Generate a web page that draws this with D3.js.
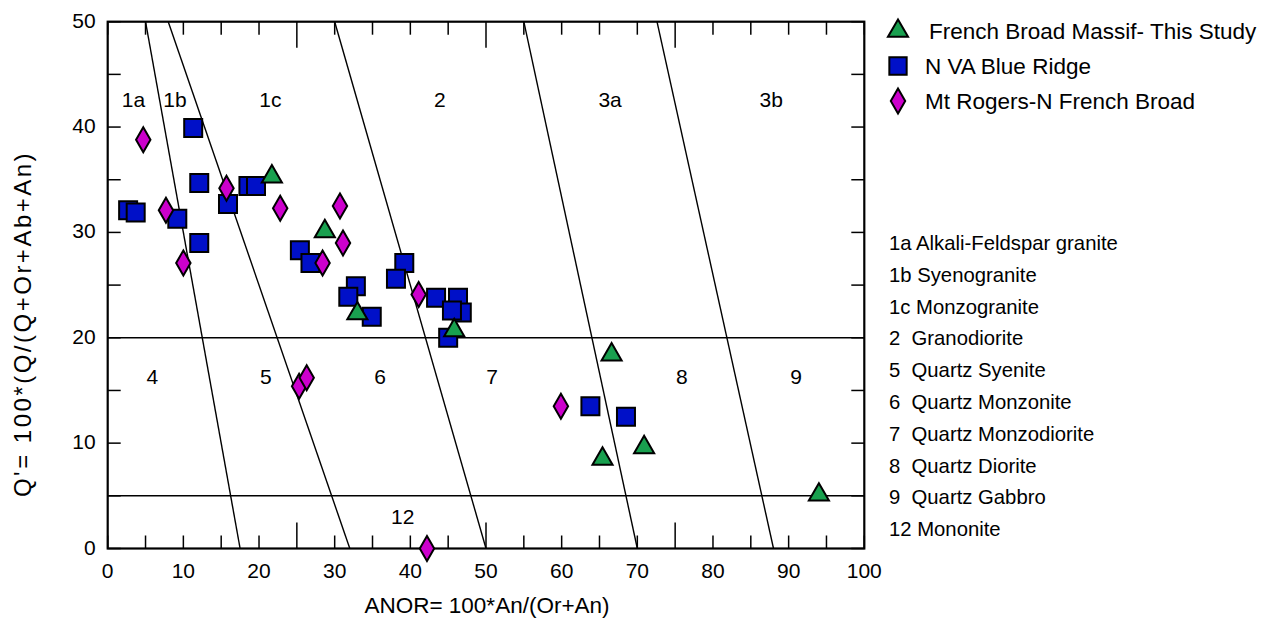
<!DOCTYPE html>
<html>
<head>
<meta charset="utf-8">
<script src="https://cdn.jsdelivr.net/npm/d3@7"></script>
<style>
  body { margin: 0; background: #fff; }
  text { font-family: "Liberation Sans", Arial, sans-serif; fill: #000; }
</style>
</head>
<body>
<div id="chart"></div>
<script>
// French Broad Massif - This Study (green triangles)
var frenchBroad = [
  [21.7, 35.3], [28.7, 30.1], [33.0, 22.3], [45.8, 20.7],
  [66.6, 18.4], [65.4, 8.5], [70.9, 9.6], [94.0, 5.1]
];

// N VA Blue Ridge (blue squares)
var nvaBlueRidge = [
  [11.3, 39.9], [12.1, 34.7], [2.7, 32.1], [3.7, 31.9], [9.2, 31.3],
  [12.1, 29.0], [15.9, 32.7], [18.6, 34.4], [19.6, 34.4], [25.4, 28.3],
  [26.8, 27.1], [32.8, 24.9], [31.8, 23.9], [34.9, 22.0], [39.2, 27.1],
  [38.1, 25.6], [43.4, 23.8], [46.3, 23.8], [46.8, 22.4], [45.5, 22.6],
  [45.0, 20.0], [63.8, 13.5], [68.5, 12.5]
];

// Mt Rogers-N French Broad (magenta diamonds)
var mtRogers = [
  [4.7, 38.8], [7.7, 32.1], [10.0, 27.1], [15.7, 34.2], [22.8, 32.3],
  [28.4, 27.1], [30.7, 32.5], [31.1, 29.0], [41.1, 24.1], [25.3, 15.4],
  [26.3, 16.2], [42.2, 0.0], [59.9, 13.5]
];

// field boundaries: ANOR at Q'=50 and at Q'=0
var boundTop = [5, 8, 30, 55, 72.6];
var boundBottom = [17.5, 32, 50, 70, 88];
var hLines = [20, 5];

var fieldNames = ["1a", "1b", "1c", "2", "3a", "3b", "4", "5", "6", "7", "8", "9", "12"];
var fieldX = [3.4, 8.9, 21.5, 43.9, 66.4, 87.7, 5.9, 20.9, 36.0, 50.8, 75.9, 91.0, 39.0];
var fieldY = [42.6, 42.6, 42.6, 42.6, 42.6, 42.6, 16.3, 16.3, 16.3, 16.3, 16.3, 16.3, 3.0];

var legendNames = ["French Broad Massif- This Study", "N VA Blue Ridge", "Mt Rogers-N French Broad"];

var keyLines = [
  "1a Alkali-Feldspar granite", "1b Syenogranite", "1c Monzogranite",
  "2  Granodiorite", "5  Quartz Syenite", "6  Quartz Monzonite",
  "7  Quartz Monzodiorite", "8  Quartz Diorite", "9  Quartz Gabbro",
  "12 Mononite"
];

var xTicks = d3.range(0, 101, 5);
var xLabels = d3.range(0, 101, 10);
var yTicks = d3.range(0, 51, 5);
var yLabels = d3.range(0, 51, 10);

var width = 1262, height = 620;
var plotLeft = 107.7, plotRight = 864.3, plotTop = 21.7, plotBottom = 548.5;

var svg = d3.select("#chart").append("svg")
  .attr("width", width)
  .attr("height", height);

var x = d3.scaleLinear().domain([0, 100]).range([plotLeft, plotRight]);
var y = d3.scaleLinear().domain([0, 50]).range([plotBottom, plotTop]);

function tickLen(d) { return d % 25 === 0 && d !== 0 && d !== 100 ? 26 : 13; }

// boundary lines
svg.append("g").selectAll("line")
  .data(boundTop)
  .enter().append("line")
  .attr("x1", function (d) { return x(d); })
  .attr("y1", y(50))
  .attr("x2", function (d, i) { return x(boundBottom[i]); })
  .attr("y2", y(0))
  .attr("stroke", "#000")
  .attr("stroke-width", 1.4);

svg.append("g").selectAll("line")
  .data(hLines)
  .enter().append("line")
  .attr("x1", x(0))
  .attr("x2", x(100))
  .attr("y1", function (d) { return y(d); })
  .attr("y2", function (d) { return y(d); })
  .attr("stroke", "#000")
  .attr("stroke-width", 1.4);

// ticks (inward) on all four sides
var tickG = svg.append("g").attr("stroke", "#000").attr("stroke-width", 1.5);
xTicks.forEach(function (d) {
  tickG.append("line").attr("x1", x(d)).attr("x2", x(d))
    .attr("y1", y(0)).attr("y2", y(0) - tickLen(d));
  tickG.append("line").attr("x1", x(d)).attr("x2", x(d))
    .attr("y1", y(50)).attr("y2", y(50) + tickLen(d));
});
yTicks.forEach(function (d) {
  tickG.append("line").attr("x1", x(0)).attr("x2", x(0) + 13)
    .attr("y1", y(d)).attr("y2", y(d));
  tickG.append("line").attr("x1", x(100)).attr("x2", x(100) - 13)
    .attr("y1", y(d)).attr("y2", y(d));
});

// frame
svg.append("rect")
  .attr("x", plotLeft).attr("y", plotTop)
  .attr("width", plotRight - plotLeft).attr("height", plotBottom - plotTop)
  .attr("fill", "none").attr("stroke", "#000").attr("stroke-width", 2.2);

// tick labels
svg.append("g").selectAll("text")
  .data(xLabels)
  .enter().append("text")
  .attr("x", function (d) { return x(d); })
  .attr("y", plotBottom + 29)
  .attr("text-anchor", "middle")
  .style("font-size", "21px")
  .text(function (d) { return d; });

svg.append("g").selectAll("text")
  .data(yLabels)
  .enter().append("text")
  .attr("x", plotLeft - 12)
  .attr("y", function (d) { return y(d) + 6; })
  .attr("text-anchor", "end")
  .style("font-size", "21px")
  .text(function (d) { return d; });

// axis titles
svg.append("text")
  .attr("x", 487)
  .attr("y", 613)
  .attr("text-anchor", "middle")
  .style("font-size", "22.5px")
  .text("ANOR= 100*An/(Or+An)");

svg.append("text")
  .attr("transform", "translate(31,324) rotate(-90)")
  .attr("text-anchor", "middle")
  .style("font-size", "24px")
  .style("letter-spacing", "2.5px")
  .text("Q'= 100*(Q/(Q+Or+Ab+An)");

// field labels
svg.append("g").selectAll("text")
  .data(fieldNames)
  .enter().append("text")
  .attr("x", function (d, i) { return x(fieldX[i]); })
  .attr("y", function (d, i) { return y(fieldY[i]) + 7.5; })
  .attr("text-anchor", "middle")
  .style("font-size", "21px")
  .text(function (d) { return d; });

// markers
var series = [
  { data: frenchBroad, type: d3.symbolTriangle, size: 175, fill: "#19a04f" },
  { data: nvaBlueRidge, type: d3.symbolSquare, size: 324, fill: "#0010c8" },
  { data: mtRogers, type: d3.symbolDiamond, size: 180, fill: "#cc00cc" }
];

var drawOrder = [1, 2, 0];
drawOrder.forEach(function (k) {
  var s = series[k];
  svg.append("g").selectAll("path")
    .data(s.data)
    .enter().append("path")
    .attr("d", d3.symbol().type(s.type).size(s.size))
    .attr("transform", function (d) { return "translate(" + x(d[0]) + "," + y(d[1]) + ")"; })
    .attr("fill", s.fill)
    .attr("stroke", "#000")
    .attr("stroke-width", 2);
});

// legend
var legend = svg.append("g");
series.forEach(function (s, i) {
  legend.append("path")
    .attr("d", d3.symbol().type(s.type).size(i === 1 ? 300 : s.size))
    .attr("transform", "translate(898," + (31 + i * 35) + ")")
    .attr("fill", s.fill)
    .attr("stroke", "#000")
    .attr("stroke-width", 2);
  legend.append("text")
    .attr("x", i === 0 ? 929 : 925)
    .attr("y", 39 + i * 35)
    .style("font-size", "22.5px")
    .text(legendNames[i]);
});

// rock-name key
svg.append("g").selectAll("text")
  .data(keyLines)
  .enter().append("text")
  .attr("x", 889)
  .attr("y", function (d, i) { return 250 + i * 31.8; })
  .style("font-size", "20.3px")
  .style("white-space", "pre")
  .attr("xml:space", "preserve")
  .text(function (d) { return d; });
</script>
</body>
</html>
